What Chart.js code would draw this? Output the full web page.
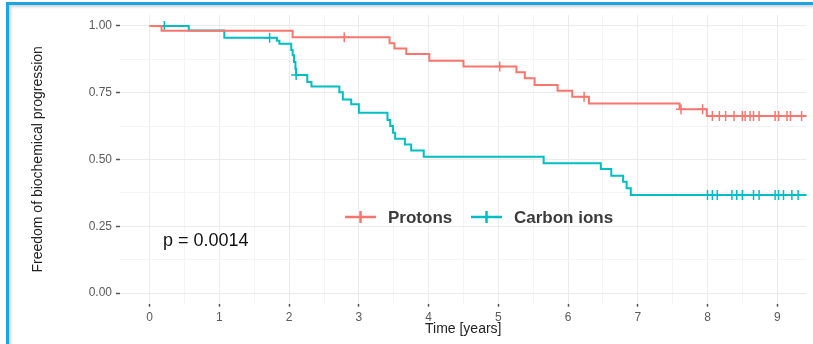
<!DOCTYPE html>
<html>
<head>
<meta charset="utf-8">
<script src="https://cdn.jsdelivr.net/npm/chart.js@4.4.1/dist/chart.umd.min.js"></script>
<style>
  html, body { margin: 0; padding: 0; background: #fff; overflow: hidden; }
  #wrap { position: relative; width: 813px; height: 344px; overflow: hidden; }
  #frame {
    position: absolute; left: 6px; top: 2px; width: 900px; height: 400px;
    border-top: 3px solid #1aa5e6; border-left: 3px solid #1aa5e6;
    box-shadow: inset 2px 2px 3px rgba(0,0,0,0.18);
  }
  #survChart { position: absolute; left: 0; top: 0; filter: blur(0.5px); }
</style>
</head>
<body>
<div id="wrap">
  <div id="frame"></div>
  <canvas id="survChart" width="813" height="344"></canvas>
</div>
<script>
// Kaplan-Meier step points: time of each event and survival after it
const protonTimes = [0, 0.17, 2.05, 3.44, 3.51, 3.68, 4.01, 4.50, 5.26, 5.38, 5.52, 5.85, 6.06, 6.30, 7.60, 7.99, 9.45];
const protonSurv  = [1.0, 0.982, 0.958, 0.935, 0.916, 0.895, 0.870, 0.848, 0.827, 0.804, 0.779, 0.757, 0.735, 0.710, 0.688, 0.663, 0.663];
const protonCensored = [2.79, 5.02, 6.23, 7.62, 7.93, 8.07, 8.17, 8.26, 8.38, 8.50, 8.54, 8.61, 8.66, 8.74, 8.97, 9.02, 9.14, 9.19, 9.35];

const carbonTimes = [0, 0.56, 1.07, 1.825, 1.86, 2.03, 2.05, 2.07, 2.09, 2.10, 2.26, 2.32, 2.72, 2.77, 2.89, 3.00, 3.41, 3.45, 3.49, 3.52, 3.66, 3.75, 3.93, 5.65, 6.47, 6.62, 6.79, 6.84, 6.90, 9.45];
const carbonSurv  = [1.0, 0.983, 0.956, 0.945, 0.933, 0.91, 0.89, 0.865, 0.84, 0.816, 0.79, 0.773, 0.752, 0.725, 0.707, 0.675, 0.648, 0.625, 0.60, 0.578, 0.556, 0.534, 0.510, 0.486, 0.464, 0.439, 0.417, 0.392, 0.367, 0.367];
const carbonCensored = [0.21, 1.72, 2.10, 8.00, 8.07, 8.14, 8.35, 8.42, 8.50, 8.66, 8.74, 8.97, 9.02, 9.09, 9.21, 9.30];

const xMajor = [0, 1, 2, 3, 4, 5, 6, 7, 8, 9];
const xMinor = [0.5, 1.5, 2.5, 3.5, 4.5, 5.5, 6.5, 7.5, 8.5];
const yMajor = [0, 0.25, 0.5, 0.75, 1];
const yMinor = [0.125, 0.375, 0.625, 0.875];

const groupNames = ["Protons", "Carbon ions"];
const groupColors = ["#F8766D", "#00BFC4"];
const pValueText = "p = 0.0014";

function stepPoints(times, surv) {
  return times.map((t, i) => ({ x: t, y: surv[i] }));
}

// value of the step curve just at time t
function survAt(times, surv, t) {
  let s = surv[0];
  for (let i = 0; i < times.length; i++) {
    if (times[i] <= t) s = surv[i];
  }
  return s;
}

function censorPoints(cens, times, surv) {
  return cens.map(t => ({ x: t, y: survAt(times, surv, t) }));
}

const isMajor = (list, v) => list.some(m => Math.abs(m - v) < 1e-6);

const keyAndText = {
  id: "keyAndText",
  afterDraw(chart) {
    const ctx = chart.ctx;
    ctx.save();
    const keys = [{ x: 345, tx: 388 }, { x: 471, tx: 514 }];
    keys.forEach((k, i) => {
      const y = 217;
      ctx.strokeStyle = groupColors[i];
      ctx.lineWidth = 2.5;
      ctx.beginPath();
      ctx.moveTo(k.x, y);
      ctx.lineTo(k.x + 31, y);
      ctx.moveTo(k.x + 15.5, y - 6);
      ctx.lineTo(k.x + 15.5, y + 6);
      ctx.stroke();
      ctx.fillStyle = "#3b3b3b";
      ctx.font = "bold 17px 'Liberation Sans', Arial, sans-serif";
      ctx.textBaseline = "middle";
      ctx.fillText(groupNames[i], k.tx, y + 1);
    });
    ctx.fillStyle = "#111";
    ctx.font = "18px 'Liberation Sans', Arial, sans-serif";
    ctx.textBaseline = "middle";
    ctx.fillText(pValueText, 163, 241);
    ctx.restore();
  }
};

const tickFont = { family: "'Liberation Sans', Arial, sans-serif", size: 12 };
const titleFont = { family: "'Liberation Sans', Arial, sans-serif", size: 14 };

new Chart(document.getElementById("survChart"), {
  type: "scatter",
  data: {
    datasets: [
      {
        data: stepPoints(protonTimes, protonSurv),
        showLine: true, stepped: true,
        borderColor: groupColors[0], borderWidth: 2,
        pointRadius: 0
      },
      {
        data: stepPoints(carbonTimes, carbonSurv),
        showLine: true, stepped: true,
        borderColor: groupColors[1], borderWidth: 2,
        pointRadius: 0
      },
      {
        data: censorPoints(protonCensored, protonTimes, protonSurv),
        pointStyle: "cross", pointRadius: 5,
        borderColor: groupColors[0], borderWidth: 1.5
      },
      {
        data: censorPoints(carbonCensored, carbonTimes, carbonSurv),
        pointStyle: "cross", pointRadius: 5,
        borderColor: groupColors[1], borderWidth: 1.5
      }
    ]
  },
  options: {
    responsive: false,
    animation: false,
    devicePixelRatio: 1,
    layout: { padding: { top: 15, right: 0, bottom: 0, left: 0 } },
    plugins: { legend: { display: false }, tooltip: { enabled: false } },
    scales: {
      x: {
        type: "linear",
        min: -0.426,
        max: 9.42,
        afterBuildTicks: s => {
          s.ticks = xMajor.concat(xMinor).sort((a, b) => a - b).map(v => ({ value: v }));
        },
        afterFit: s => { s.height = 40.3; },
        ticks: {
          autoSkip: false, maxRotation: 0, padding: 4,
          color: "#5a5a5a", font: tickFont,
          callback: v => isMajor(xMajor, v) ? String(v) : ""
        },
        grid: {
          lineWidth: 1, tickLength: 3, tickWidth: 1.5,
          color: c => isMajor(xMajor, c.tick.value) ? "#ebebeb" : "#f4f4f4",
          tickColor: c => isMajor(xMajor, c.tick.value) ? "#555" : "rgba(0,0,0,0)"
        },
        border: { display: false },
        title: {
          display: true, text: "Time [years]", color: "#222",
          font: titleFont, padding: { top: 0, bottom: 6.6 }
        }
      },
      y: {
        type: "linear",
        min: -0.04,
        max: 1.041,
        afterBuildTicks: s => {
          s.ticks = yMajor.concat(yMinor).sort((a, b) => a - b).map(v => ({ value: v }));
        },
        afterFit: s => { s.width = 120; },
        ticks: {
          autoSkip: false, padding: 4,
          color: "#5a5a5a", font: tickFont,
          callback: v => isMajor(yMajor, v) ? v.toFixed(2) : ""
        },
        grid: {
          lineWidth: 1, tickLength: 4, tickWidth: 1.5,
          color: c => isMajor(yMajor, c.tick.value) ? "#ebebeb" : "#f4f4f4",
          tickColor: c => isMajor(yMajor, c.tick.value) ? "#555" : "rgba(0,0,0,0)"
        },
        border: { display: false },
        title: {
          display: true, text: "Freedom of biochemical progression", color: "#222",
          font: titleFont, padding: { top: 29.6, bottom: 0 }
        }
      }
    }
  },
  plugins: [keyAndText]
});
</script>
</body>
</html>
